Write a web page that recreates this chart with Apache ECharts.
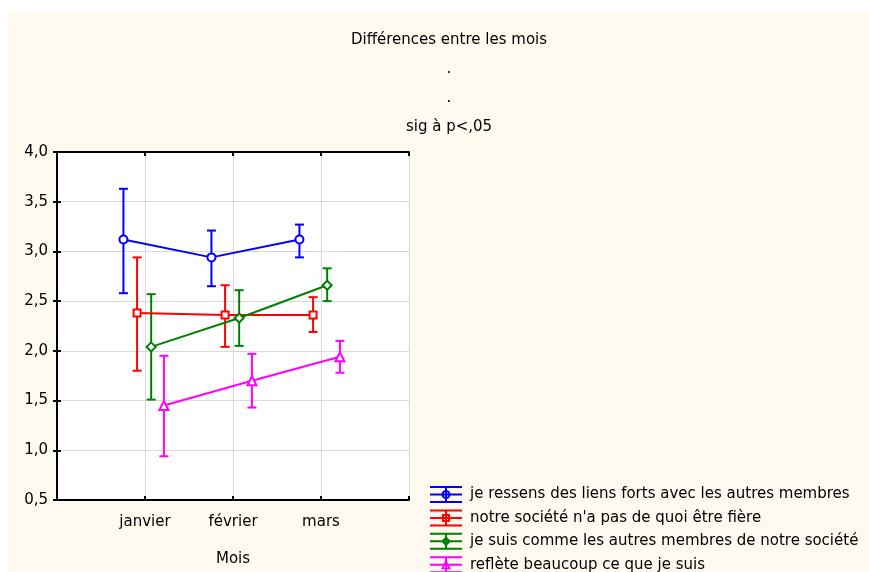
<!DOCTYPE html>
<html>
<head>
<meta charset="utf-8">
<script src="https://cdn.jsdelivr.net/npm/echarts@6/dist/echarts.min.js"></script>
<style>
html,body{margin:0;padding:0;background:#fff;}
#chart{width:869px;height:572px;background:linear-gradient(#FFFAF0,#FFFAF0) no-repeat 8px 12px / 861px 560px;}
</style>
</head>
<body>
<div id="chart"></div>
<script>
// ---- data ----
const categories = ['janvier', 'février', 'mars'];
const seriesNames = [
  'je ressens des liens forts avec les autres membres',
  "notre société n'a pas de quoi être fière",
  'je suis comme les autres membres de notre société',
  'reflète beaucoup ce que je suis'
];
const meanBlue    = [3.12, 2.94, 3.12];
const lowBlue     = [2.58, 2.65, 2.94];
const highBlue    = [3.63, 3.21, 3.27];
const meanRed     = [2.38, 2.36, 2.36];
const lowRed      = [1.80, 2.04, 2.19];
const highRed     = [2.94, 2.66, 2.54];
const meanGreen   = [2.04, 2.33, 2.66];
const lowGreen    = [1.51, 2.05, 2.50];
const highGreen   = [2.57, 2.61, 2.83];
const meanMagenta = [1.45, 1.70, 1.94];
const lowMagenta  = [0.94, 1.43, 1.78];
const highMagenta = [1.95, 1.97, 2.10];
const yTicks = [0.5, 1.0, 1.5, 2.0, 2.5, 3.0, 3.5, 4.0];

// ---- styling ----
const colors = ['#0000FF', '#FF0000', '#008000', '#FF00FF'];
const symbols = ['emptyCircle', 'emptyRect', 'emptyDiamond', 'emptyTriangle'];
const symbolSizes = [8, 7, 9, 9];
const offsets = [-0.245, -0.09, 0.07, 0.215];
const means = [meanBlue, meanRed, meanGreen, meanMagenta];
const lows = [lowBlue, lowRed, lowGreen, lowMagenta];
const highs = [highBlue, highRed, highGreen, highMagenta];

const FONT = '"DejaVu Sans", "Liberation Sans", Arial, sans-serif';
const FS = 15;
const iconBase = 'M0,0H32V2H0Z M0,7.5H32V9.5H0Z M0,15H32V17H0Z M15,0H17V17H15Z ';
const iconMarkers = [
  'M11.5,8.5A4.5,4.5 0 1,1 20.5,8.5A4.5,4.5 0 1,1 11.5,8.5Z M13.5,8.5A2.5,2.5 0 1,0 18.5,8.5A2.5,2.5 0 1,0 13.5,8.5Z',
  'M12,4.5H20V12.5H12Z M14,6.5V10.5H18V6.5Z',
  'M16,3.5L21,8.5L16,13.5L11,8.5Z M16,6.3L13.8,8.5L16,10.7L18.2,8.5Z',
  'M16,3L21,13H11Z M16,7.2L13.8,11.5H18.2Z'
];
const icons = iconMarkers.map((m) => 'path://' + iconBase + m);

const series = [];
for (let s = 0; s < 4; s++) {
  series.push({
    name: seriesNames[s],
    type: 'custom',
    z: 2,
    data: categories.map((c, i) => [i + 1 + offsets[s], lows[s][i], highs[s][i]]),
    encode: { x: 0, y: [1, 2] },
    renderItem: function (params, api) {
      const x = api.value(0);
      const pLo = api.coord([x, api.value(1)]);
      const pHi = api.coord([x, api.value(2)]);
      const hw = 4.5;
      const st = { stroke: colors[s], lineWidth: 2 };
      return {
        type: 'group',
        children: [
          { type: 'line', shape: { x1: pLo[0], y1: pLo[1], x2: pHi[0], y2: pHi[1] }, style: st },
          { type: 'line', shape: { x1: pHi[0] - hw, y1: pHi[1], x2: pHi[0] + hw, y2: pHi[1] }, style: st },
          { type: 'line', shape: { x1: pLo[0] - hw, y1: pLo[1], x2: pLo[0] + hw, y2: pLo[1] }, style: st }
        ]
      };
    }
  });
  series.push({
    name: seriesNames[s],
    type: 'line',
    z: 3,
    data: categories.map((c, i) => [i + 1 + offsets[s], means[s][i]]),
    symbol: symbols[s],
    symbolSize: symbolSizes[s],
    lineStyle: { color: colors[s], width: 2 },
    itemStyle: { color: colors[s], borderWidth: 2 },
    animation: false
  });
}

const chart = echarts.init(document.getElementById('chart'), null, { renderer: 'canvas' });
const axisCommon = {
  min: 0.5, max: 4, interval: 0.5,
  axisLine: { show: true, lineStyle: { color: '#000', width: 2 } },
  axisTick: { show: true, inside: true, length: 4, lineStyle: { color: '#000', width: 2 } }
};
chart.setOption({
  animation: false,
  backgroundColor: 'transparent',
  color: colors,
  textStyle: { fontFamily: FONT },
  title: {
    text: 'Différences entre les mois\n.\n.\nsig à p<,05',
    left: 444,
    top: 21,
    textAlign: 'center',
    textStyle: { fontFamily: FONT, fontSize: FS, fontWeight: 'normal', color: '#000', lineHeight: 29 }
  },
  legend: {
    orient: 'vertical',
    left: 430,
    top: 486,
    height: 100,
    padding: 0,
    itemWidth: 32,
    itemHeight: 17,
    itemGap: 6.4,
    data: seriesNames.map((n, i) => ({ name: n, icon: icons[i] })),
    textStyle: { fontFamily: FONT, fontSize: FS, color: '#000', padding: [0, 0, 0, 3] }
  },
  grid: {
    left: 57, top: 152, right: 460, bottom: 69,
    show: true, backgroundColor: '#fff', borderWidth: 0
  },
  xAxis: [
    {
      type: 'value', min: 0, max: 4, interval: 1,
      name: 'Mois', nameLocation: 'middle', nameGap: 52,
      nameTextStyle: { fontFamily: FONT, fontSize: FS, color: '#000' },
      axisLine: { show: true, lineStyle: { color: '#000', width: 2 } },
      axisTick: { show: true, inside: true, length: 4, lineStyle: { color: '#000', width: 2 } },
      axisLabel: {
        margin: 15, fontFamily: FONT, fontSize: FS, color: '#000',
        formatter: (v) => (v >= 1 && v <= 3 ? categories[v - 1] : '')
      },
      splitLine: { show: true, lineStyle: { color: '#d9d9d9', width: 1 } }
    },
    {
      type: 'value', min: 0, max: 4, interval: 1, position: 'top',
      axisLine: { show: true, lineStyle: { color: '#000', width: 2 } },
      axisTick: { show: true, inside: true, length: 4, lineStyle: { color: '#000', width: 2 } },
      axisLabel: { show: false },
      splitLine: { show: false }
    }
  ],
  yAxis: [
    Object.assign({}, axisCommon, {
      type: 'value',
      axisLabel: {
        margin: 9, fontFamily: FONT, fontSize: FS, color: '#000',
        formatter: (v) => v.toFixed(1).replace('.', ',')
      },
      splitLine: { show: true, lineStyle: { color: '#d9d9d9', width: 1 } }
    }),
    Object.assign({}, axisCommon, {
      type: 'value', position: 'right',
      axisLabel: { show: false },
      splitLine: { show: false }
    })
  ],
  series: series
});
</script>
</body>
</html>
